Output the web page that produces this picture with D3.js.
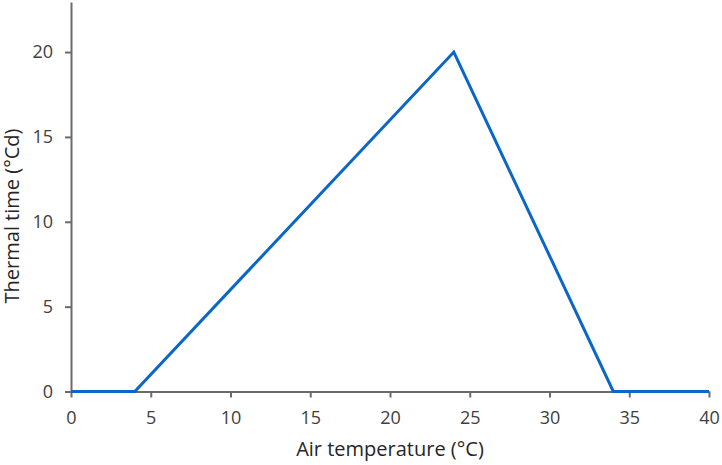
<!DOCTYPE html>
<html>
<head>
<meta charset="utf-8">
<script src="https://cdn.jsdelivr.net/npm/d3@7"></script>
<style>
  body { margin: 0; background: #fff; }
</style>
</head>
<body>
<svg width="722" height="465"></svg>
<script>
// Data: thermal time response to air temperature
const temperature = [0, 4, 24, 34, 40];
const thermalTime = [0, 0, 20, 0, 0];
const xTicks = [0, 5, 10, 15, 20, 25, 30, 35, 40];
const yTicks = [0, 5, 10, 15, 20];

const svg = d3.select('svg');
const width = +svg.attr('width');
const height = +svg.attr('height');

const margin = { left: 71, right: 13, top: 2, bottom: 73.5 };
const innerWidth = width - margin.left - margin.right;
const innerHeight = height - margin.top - margin.bottom;

const font = '"Open Sans", "Liberation Sans", sans-serif';

const g = svg.append('g')
    .attr('transform', `translate(${margin.left},${margin.top})`);

const xScale = d3.scaleLinear().domain([0, 40]).range([0, innerWidth]);
const yScale = d3.scaleLinear().domain([0, 22.95]).range([innerHeight, 0]);

// x-axis
const xAxisGroup = g.append('g')
    .attr('transform', `translate(0, ${innerHeight})`)
    .call(d3.axisBottom(xScale).tickValues(xTicks).tickSize(6).tickPadding(14).tickSizeOuter(0));
xAxisGroup.select('.domain').attr('stroke', '#6b6b6b').attr('stroke-width', 2);
xAxisGroup.selectAll('.tick line').attr('stroke', '#6b6b6b').attr('stroke-width', 2);
xAxisGroup.selectAll('.tick text')
    .attr('font-family', font).attr('font-size', 18).attr('fill', '#404040');

// y-axis
const yAxisGroup = g.append('g')
    .call(d3.axisLeft(yScale).tickValues(yTicks).tickSize(6).tickPadding(12).tickSizeOuter(0));
yAxisGroup.select('.domain').attr('stroke', '#6b6b6b').attr('stroke-width', 2);
yAxisGroup.selectAll('.tick line').attr('stroke', '#6b6b6b').attr('stroke-width', 2);
yAxisGroup.selectAll('.tick text')
    .attr('font-family', font).attr('font-size', 18).attr('fill', '#404040');

// Axis labels
g.append('text')
    .attr('x', innerWidth / 2)
    .attr('y', innerHeight + 64)
    .attr('text-anchor', 'middle')
    .attr('font-family', font)
    .attr('font-size', 20)
    .attr('fill', '#262626')
    .text('Air temperature (°C)');

g.append('text')
    .attr('transform', 'rotate(-90)')
    .attr('x', -214)
    .attr('y', -52)
    .attr('text-anchor', 'middle')
    .attr('font-family', font)
    .attr('font-size', 20)
    .attr('fill', '#262626')
    .text('Thermal time (°Cd)');

// Line
const line = d3.line()
    .x((d, i) => xScale(temperature[i]))
    .y((d, i) => yScale(thermalTime[i]));

g.append('path')
    .datum(temperature)
    .attr('d', line)
    .attr('fill', 'none')
    .attr('stroke', '#0a66c8')
    .attr('stroke-width', 3)
    .attr('stroke-linejoin', 'miter');
</script>
</body>
</html>
